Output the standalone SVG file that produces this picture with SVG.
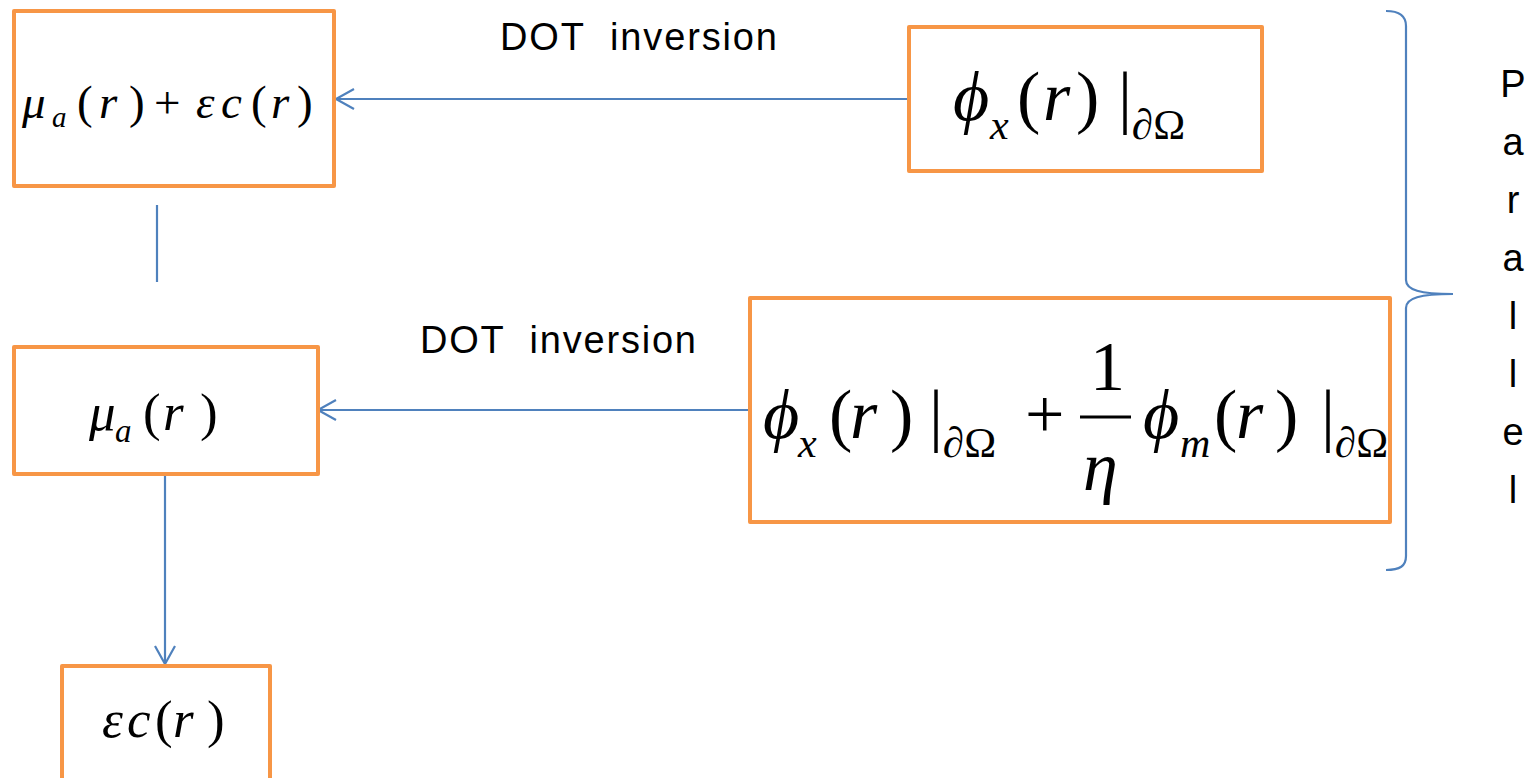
<svg xmlns="http://www.w3.org/2000/svg" width="1536" height="778" viewBox="0 0 1536 778">
<defs>
<style>
.box{fill:#fff;stroke:#F79646;stroke-width:4;stroke-linejoin:round}
.con{fill:none;stroke:#4F81BD;stroke-width:2.2}
.m{font-family:"Liberation Serif","Times New Roman",serif;fill:#000}
.i{font-style:italic}
.lbl{font-family:"Liberation Sans",Arial,sans-serif;font-size:38px;fill:#000}
</style>
<path id="ahead" d="M18,-10 L0,0 L18,10" fill="none" stroke="#4F81BD" stroke-width="2.2" stroke-linejoin="miter"/>
</defs>
<rect width="1536" height="778" fill="#fff"/>

<g id="connectors">
<line class="con" x1="909" y1="99" x2="337" y2="99"/>
<use href="#ahead" transform="translate(336,99)"/>
<line class="con" x1="750" y1="410" x2="319" y2="410"/>
<use href="#ahead" transform="translate(318,410)"/>
<line class="con" x1="165" y1="476" x2="165" y2="663"/>
<use href="#ahead" transform="translate(165,664) rotate(-90)"/>
<line class="con" x1="157" y1="205" x2="157" y2="282"/>
<path class="con" d="M1386,11 C1400,11 1406,16 1406,26 L1406,280 C1406,290 1420,294 1453,294 C1420,294 1406,298 1406,308 L1406,556 C1406,566 1400,570 1386,570"/>
</g>

<g id="label-dot1"><text class="lbl" x="500" y="50" textLength="277" lengthAdjust="spacing" xml:space="preserve">DOT  inversion</text></g>
<g id="label-dot2"><text class="lbl" x="420" y="353" textLength="276" lengthAdjust="spacing" xml:space="preserve">DOT  inversion</text></g>

<g id="label-parallel" class="lbl" text-anchor="middle">
<text x="1513" y="97">P</text>
<text x="1513" y="155">a</text>
<text x="1513" y="213">r</text>
<text x="1513" y="271">a</text>
<text x="1513" y="329">l</text>
<text x="1513" y="387">l</text>
<text x="1513" y="445">e</text>
<text x="1513" y="503">l</text>
</g>

<g id="node-mua-plus-epsc">
<rect class="box" x="14" y="11" width="320" height="175"/>
<text class="m" font-size="47" y="118"><tspan class="i" x="22">μ</tspan><tspan class="i" x="52" y="127" font-size="29">a</tspan><tspan x="77" y="118">(</tspan><tspan class="i" x="99">r</tspan><tspan x="129">)</tspan><tspan x="154">+</tspan><tspan class="i" x="196">ε</tspan><tspan class="i" x="221">c</tspan><tspan x="251">(</tspan><tspan class="i" x="271">r</tspan><tspan x="297">)</tspan></text>
</g>

<g id="node-phix">
<rect class="box" x="909" y="27" width="353" height="144"/>
<text class="m" font-size="70" y="120"><tspan class="i" x="953">ϕ</tspan><tspan class="i" x="990" y="139" font-size="42">x</tspan><tspan x="1017" y="120">(</tspan><tspan class="i" x="1043">r</tspan><tspan x="1076">)</tspan><tspan x="1118">|</tspan><tspan x="1132" y="139" font-size="43">∂Ω</tspan></text>
</g>

<g id="node-phix-phim">
<rect class="box" x="750" y="298" width="640" height="224"/>
<text class="m" font-size="70" y="438"><tspan class="i" x="763">ϕ</tspan><tspan class="i" x="798" y="457" font-size="42">x</tspan><tspan x="829" y="438">(</tspan><tspan class="i" x="850">r</tspan><tspan x="890">)</tspan><tspan x="929">|</tspan><tspan x="943" y="457" font-size="43">∂Ω</tspan><tspan x="1025" y="438">+</tspan><tspan x="1090" y="390">1</tspan><tspan class="i" x="1083" y="490">η</tspan><tspan class="i" x="1143" y="438">ϕ</tspan><tspan class="i" x="1180" y="457" font-size="42">m</tspan><tspan x="1214" y="438">(</tspan><tspan class="i" x="1236">r</tspan><tspan x="1275">)</tspan><tspan x="1321">|</tspan><tspan x="1335" y="457" font-size="43">∂Ω</tspan></text>
<line x1="1080" y1="417" x2="1131" y2="417" stroke="#000" stroke-width="3"/>
</g>

<g id="node-mua">
<rect class="box" x="14" y="347" width="304" height="127"/>
<text class="m" font-size="53" y="430"><tspan class="i" x="89">μ</tspan><tspan class="i" x="115" y="442" font-size="33">a</tspan><tspan x="143" y="430">(</tspan><tspan class="i" x="163">r</tspan><tspan x="200">)</tspan></text>
</g>

<g id="node-epsc">
<rect class="box" x="62" y="666" width="208" height="130"/>
<text class="m" font-size="53" y="737"><tspan class="i" x="102">ε</tspan><tspan class="i" x="127">c</tspan><tspan x="155">(</tspan><tspan class="i" x="173">r</tspan><tspan x="207">)</tspan></text>
</g>
</svg>
